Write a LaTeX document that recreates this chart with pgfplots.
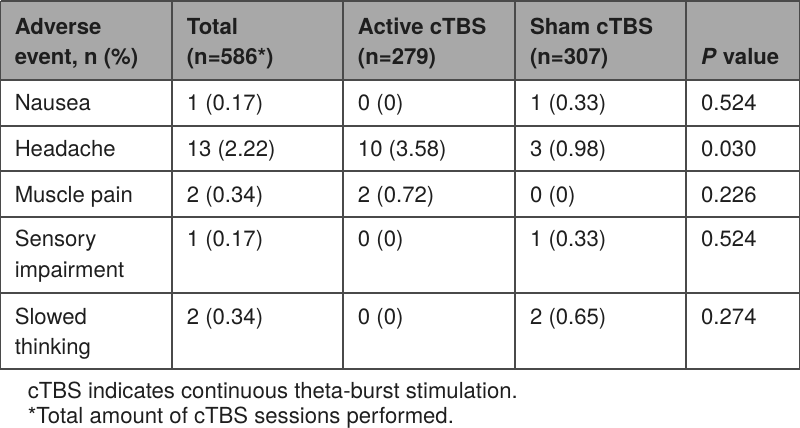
\documentclass[border=0pt]{standalone}
\usepackage{pgfplots}
\pgfplotsset{compat=1.18}
\usepackage{fontspec}
\setmainfont{TeX Gyre Heros}
\definecolor{hdr}{HTML}{A8A8A8}
\definecolor{rulec}{HTML}{4A4A4A}
\definecolor{txt}{HTML}{1E1E1E}
\tikzset{cell/.style={anchor=base west, inner sep=0pt, outer sep=0pt, text=txt,
    font=\fontsize{11.1}{13}\selectfont}}
\begin{document}
\begin{tikzpicture}
\begin{axis}[
  scale only axis, width=400bp, height=219bp,
  xmin=0, xmax=800, ymin=0, ymax=438, y dir=reverse,
  hide axis, clip=false,
  rl/.style={draw=rulec, line width=0.75pt, mark=none},
]
% header band
\addplot[draw=none, fill=hdr, mark=none] coordinates {(1,1) (799,1) (799,80) (1,80) (1,1)};
% outer frame
\addplot[rl] coordinates {(1,1) (799,1) (799,369) (1,369) (1,1)};
% row rules
\addplot[rl] coordinates {(1,80) (799,80)};
\addplot[rl] coordinates {(1,126) (799,126)};
\addplot[rl] coordinates {(1,171) (799,171)};
\addplot[rl] coordinates {(1,217) (799,217)};
\addplot[rl] coordinates {(1,293) (799,293)};
% column rules
\addplot[rl] coordinates {(172,1) (172,369)};
\addplot[rl] coordinates {(343,1) (343,369)};
\addplot[rl] coordinates {(515,1) (515,369)};
\addplot[rl] coordinates {(686,1) (686,369)};

% header
\node[cell] at (axis cs:15,35) {\bfseries Adverse};
\node[cell] at (axis cs:15,65) {\bfseries event, n (\%)};
\node[cell] at (axis cs:187,35) {\bfseries Total};
\node[cell] at (axis cs:187,65) {\bfseries (n=586*)};
\node[cell] at (axis cs:358,35) {\bfseries Active cTBS};
\node[cell] at (axis cs:358,65) {\bfseries (n=279)};
\node[cell] at (axis cs:530,35) {\bfseries Sham cTBS};
\node[cell] at (axis cs:530,65) {\bfseries (n=307)};
\node[cell] at (axis cs:701,65) {\bfseries\textit{P} value};

% Nausea
\node[cell] at (axis cs:15,111) {Nausea};
\node[cell] at (axis cs:187,111) {1 (0.17)};
\node[cell] at (axis cs:358,111) {0 (0)};
\node[cell] at (axis cs:530,111) {1 (0.33)};
\node[cell] at (axis cs:701,111) {0.524};
% Headache
\node[cell] at (axis cs:15,157) {Headache};
\node[cell] at (axis cs:187,157) {13 (2.22)};
\node[cell] at (axis cs:358,157) {10 (3.58)};
\node[cell] at (axis cs:530,157) {3 (0.98)};
\node[cell] at (axis cs:701,157) {0.030};
% Muscle pain
\node[cell] at (axis cs:15,203) {Muscle pain};
\node[cell] at (axis cs:187,203) {2 (0.34)};
\node[cell] at (axis cs:358,203) {2 (0.72)};
\node[cell] at (axis cs:530,203) {0 (0)};
\node[cell] at (axis cs:701,203) {0.226};
% Sensory impairment
\node[cell] at (axis cs:15,247) {Sensory};
\node[cell] at (axis cs:15,278) {impairment};
\node[cell] at (axis cs:187,247) {1 (0.17)};
\node[cell] at (axis cs:358,247) {0 (0)};
\node[cell] at (axis cs:530,247) {1 (0.33)};
\node[cell] at (axis cs:701,247) {0.524};
% Slowed thinking
\node[cell] at (axis cs:15,325) {Slowed};
\node[cell] at (axis cs:15,355) {thinking};
\node[cell] at (axis cs:187,325) {2 (0.34)};
\node[cell] at (axis cs:358,325) {0 (0)};
\node[cell] at (axis cs:530,325) {2 (0.65)};
\node[cell] at (axis cs:701,325) {0.274};

% notes
\node[cell] at (axis cs:28,398) {cTBS indicates continuous theta-burst stimulation.};
\node[cell] at (axis cs:28,423) {*Total amount of cTBS sessions performed.};
\end{axis}
\end{tikzpicture}
\end{document}
